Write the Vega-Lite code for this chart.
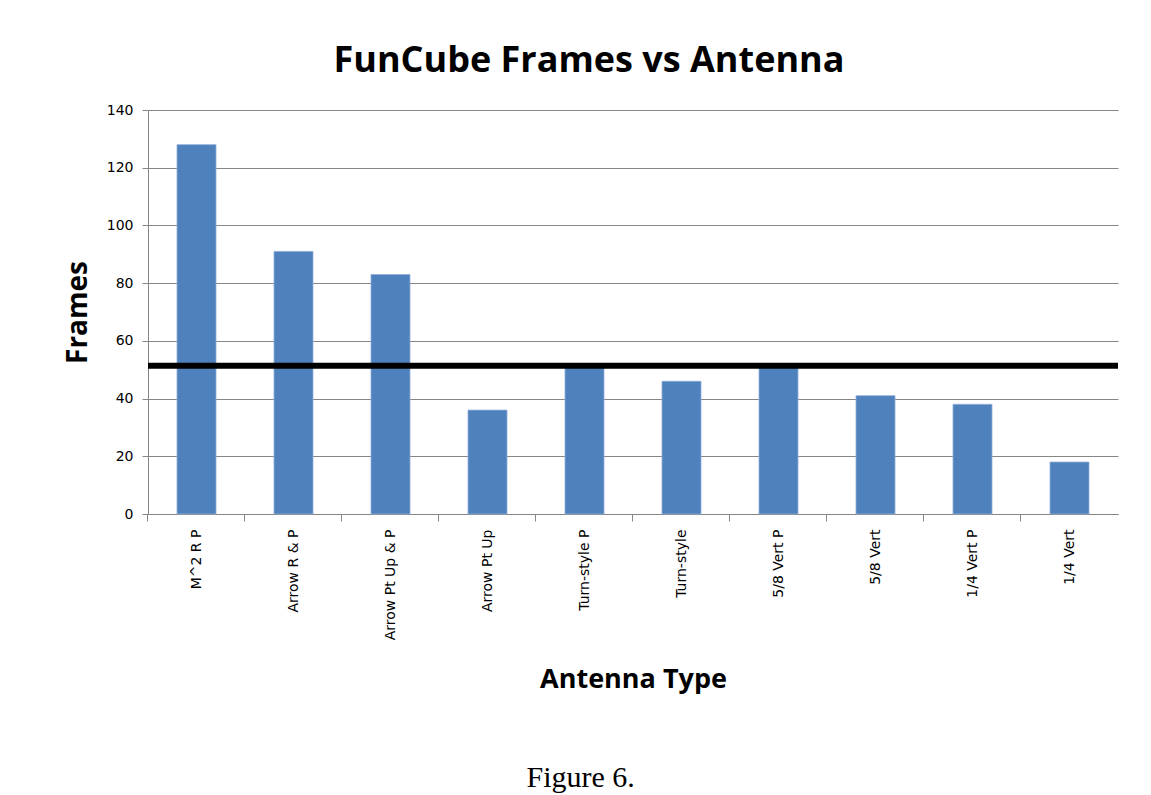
{
  "$schema": "https://vega.github.io/schema/vega-lite/v6.json",
  "background": "white",
  "padding": {"left": 64, "top": 43, "right": 20, "bottom": 0},
  "title": {
    "text": "Figure 6.",
    "orient": "bottom",
    "anchor": "middle",
    "font": "Liberation Serif",
    "fontSize": 30,
    "fontWeight": "normal",
    "color": "black",
    "offset": 70,
    "dx": -12
  },
  "vconcat": [
    {
      "width": 970,
      "height": 404,
      "title": {
        "text": "FunCube Frames vs Antenna",
        "anchor": "middle",
        "font": "Open Sans",
        "fontSize": 36,
        "fontWeight": "bold",
        "color": "black",
        "offset": 23,
        "dx": -44
      },
      "data": {
        "values": [
          {"antenna": "M^2 R P", "frames": 128},
          {"antenna": "Arrow R & P", "frames": 91},
          {"antenna": "Arrow Pt Up & P", "frames": 83},
          {"antenna": "Arrow Pt Up", "frames": 36},
          {"antenna": "Turn-style P", "frames": 51},
          {"antenna": "Turn-style", "frames": 46},
          {"antenna": "5/8 Vert P", "frames": 51},
          {"antenna": "5/8 Vert", "frames": 41},
          {"antenna": "1/4 Vert P", "frames": 38},
          {"antenna": "1/4 Vert", "frames": 18}
        ]
      },
      "layer": [
        {
          "mark": {"type": "bar", "color": "#4F81BD", "stroke": "#8EAEDB", "strokeWidth": 0.8},
          "encoding": {
            "x": {
              "field": "antenna",
              "type": "nominal",
              "sort": null,
              "scale": {"paddingInner": 0.598, "paddingOuter": 0.299},
              "axis": {
                "title": "Antenna Type",
                "titleFont": "Open Sans",
                "titleFontSize": 27,
                "titleFontWeight": "bold",
                "titleColor": "black",
                "titlePadding": 27,
                "labelAngle": -90,
                "labelFont": "DejaVu Sans",
                "labelFontSize": 14,
                "labelColor": "black",
                "labelPadding": 8,
                "bandPosition": -0.744,
                "tickSize": 7,
                "tickColor": "#868686",
                "domainColor": "#868686",
                "grid": false
              }
            },
            "y": {
              "field": "frames",
              "type": "quantitative",
              "scale": {"domain": [0, 140]},
              "axis": {
                "title": "Frames",
                "titleFont": "Open Sans",
                "titleFontSize": 28,
                "titleFontWeight": "bold",
                "titleColor": "black",
                "titlePadding": 14,
                "values": [0, 20, 40, 60, 80, 100, 120, 140],
                "labelFont": "DejaVu Sans",
                "labelFontSize": 14,
                "labelColor": "black",
                "labelPadding": 9,
                "tickSize": 6,
                "tickColor": "#868686",
                "domainColor": "#868686",
                "grid": true,
                "gridColor": "#868686",
                "gridWidth": 1.2
              }
            }
          }
        },
        {
          "data": {"values": [{"threshold": 51.4}]},
          "mark": {"type": "rule", "color": "black", "strokeWidth": 6},
          "encoding": {
            "y": {"field": "threshold", "type": "quantitative"}
          }
        }
      ]
    }
  ],
  "config": {
    "view": {"stroke": null},
    "axis": {"labelOpacity": 1}
  }
}
